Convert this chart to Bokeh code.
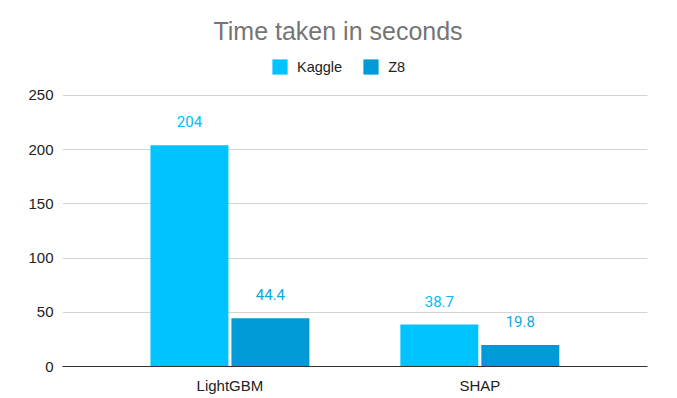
from bokeh.plotting import figure
from bokeh.models import (ColumnDataSource, Range1d, FixedTicker, Label, LabelSet,
                          Legend, LegendItem)
from bokeh.embed import file_html
from bokeh.resources import INLINE
from bokeh.core.properties import value

# ---- data ----
categories = ["LightGBM", "SHAP"]
series = ["Kaggle", "Z8"]
kaggle = [204, 38.7]
z8 = [44.4, 19.8]
y_ticks = [0, 50, 100, 150, 200, 250]
title_text = "Time taken in seconds"

# ---- styling ----
colors = ["#00C3FF", "#009BD7"]
label_colors = ["#00BDF7", "#10A6E0"]
off = 0.162
bw = 0.312

xs = list(range(len(categories)))

src_k = ColumnDataSource(dict(x=[i - off for i in xs], top=kaggle,
                              lab=[f"{v:g}" for v in kaggle]))
src_z = ColumnDataSource(dict(x=[i + off for i in xs], top=z8,
                              lab=[f"{v:g}" for v in z8]))

p = figure(width=670, height=396,
           x_range=Range1d(-0.67, 1.671), y_range=Range1d(0, 321),
           output_backend="svg", toolbar_location=None,
           min_border_left=62, min_border_right=23,
           min_border_top=18, min_border_bottom=30)

p.outline_line_color = None
p.background_fill_color = "white"
p.border_fill_color = "white"

rk = p.vbar(x="x", top="top", width=bw, source=src_k, fill_color=colors[0], line_color=None)
rz = p.vbar(x="x", top="top", width=bw, source=src_z, fill_color=colors[1], line_color=None)

for src, lc in ((src_k, label_colors[0]), (src_z, label_colors[1])):
    p.add_layout(LabelSet(x="x", y="top", text="lab", source=src, y_offset=18,
                          text_align="center", text_baseline="alphabetic",
                          text_font=value("Roboto"), text_font_size="15px",
                          text_color=lc))

# axes
p.xaxis.ticker = FixedTicker(ticks=xs)
p.xaxis.major_label_overrides = {i: c for i, c in zip(xs, categories)}
p.xaxis.major_tick_line_color = None
p.xaxis.major_tick_out = 0
p.xaxis.major_tick_in = 0
p.xaxis.minor_tick_line_color = None
p.xaxis.minor_tick_out = 0
p.xaxis.axis_line_color = "#333333"
p.xaxis.major_label_standoff = 10
p.xaxis.major_label_text_font = "Liberation Sans"
p.xaxis.major_label_text_font_size = "15px"
p.xaxis.major_label_text_color = "#222222"

p.yaxis.ticker = FixedTicker(ticks=y_ticks)
p.yaxis.axis_line_color = None
p.yaxis.major_tick_line_color = None
p.yaxis.major_tick_out = 0
p.yaxis.major_tick_in = 0
p.yaxis.minor_tick_line_color = None
p.yaxis.minor_tick_out = 0
p.yaxis.major_label_standoff = 9
p.yaxis.major_label_text_font = "Liberation Sans"
p.yaxis.major_label_text_font_size = "15px"
p.yaxis.major_label_text_color = "#222222"

p.xgrid.visible = False
p.ygrid.grid_line_color = "#d4d4d4"
p.ygrid.grid_line_width = 1

# title (screen units relative to frame bottom-left)
p.add_layout(Label(x=275.5, y=336, x_units="screen", y_units="screen", text=title_text,
                   text_align="center", text_baseline="alphabetic",
                   text_font="Liberation Sans", text_font_size="25px",
                   text_color="#757575"))

legend = Legend(items=[LegendItem(label=series[0], renderers=[rk]),
                       LegendItem(label=series[1], renderers=[rz])],
                orientation="horizontal", location=(208, 290),
                padding=0, margin=0, spacing=19,
                glyph_width=19, glyph_height=19, label_standoff=8,
                label_height=19, label_width=10,
                border_line_color=None, background_fill_alpha=0,
                label_text_font="Liberation Sans", label_text_font_size="14.5px",
                label_text_color="#222222")
p.add_layout(legend, "center")

open("out.html", "w").write(file_html(p, INLINE))
